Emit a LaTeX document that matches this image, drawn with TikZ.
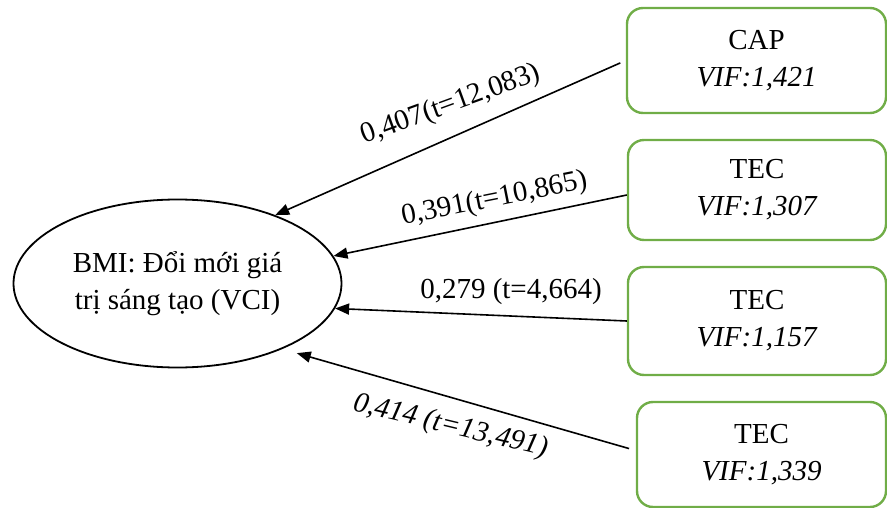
\documentclass[tikz,border=0pt]{standalone}
\usepackage{fontspec}
\setmainfont{Liberation Serif}
\usetikzlibrary{arrows.meta,shapes.geometric}
\definecolor{boxgreen}{HTML}{70AD47}
\tikzset{
  factor/.style    = {draw=boxgreen,line width=2.4pt,rounded corners=16pt,align=center,inner sep=0pt},
  construct/.style = {draw,ellipse,line width=1.8pt,align=center,inner sep=0pt,
                      minimum width=328pt,minimum height=168pt},
  arr/.style       = {-{Triangle[length=14pt,width=11pt]},line width=1.6pt},
  coef/.style      = {inner sep=0pt}
}

\begin{document}
\begin{tikzpicture}[x=1pt,y=-1pt,font=\fontsize{29}{37}\selectfont]
  \useasboundingbox (0,0) rectangle (887,508);
  \clip (0,0) rectangle (887,508);
  % dependent construct
  \node[construct] (vci) at (177.5,283.5) {BMI: Đổi mới giá\\trị sáng tạo (VCI)};
  % predictors
  \node[factor,minimum width=259pt,minimum height=105pt] (cap)  at (756.5,60.5) {CAP\\\textit{VIF:1,421}};
  \node[factor,minimum width=258pt,minimum height=100pt] (tec1) at (757,190)    {TEC\\\textit{VIF:1,307}};
  \node[factor,minimum width=258pt,minimum height=108pt] (tec2) at (757,321)    {TEC\\\textit{VIF:1,157}};
  \node[factor,minimum width=249pt,minimum height=105pt] (tec3) at (761.5,454.5) {TEC\\\textit{VIF:1,339}};
  % paths
  \draw[arr,shorten <=6pt]                 (cap.west) -- (vci.35);
  \draw[arr]                               ([yshift=-5pt]tec1.west) -- (vci.10);
  \draw[arr]                               (tec2.west) -- (vci.-9);
  \draw[arr,shorten <=7pt,shorten >=15pt]  ([yshift=4pt]tec3.west) -- (vci.-32);
  % coefficients
  \node[coef,rotate=20]   (b1) at (451,105)     {0,407(t=12,083)};
  \node[coef,rotate=11.3] (b2) at (494.5,199.5) {0,391(t=10,865)};
  \node[coef]             (b3) at (511,292)     {0,279 (t=4,664)};
  \node[coef,rotate=-13.5,font=\fontsize{29}{37}\selectfont\itshape] (b4) at (450.5,426.5) {0,414 (t=13,491)};
\end{tikzpicture}
\end{document}
